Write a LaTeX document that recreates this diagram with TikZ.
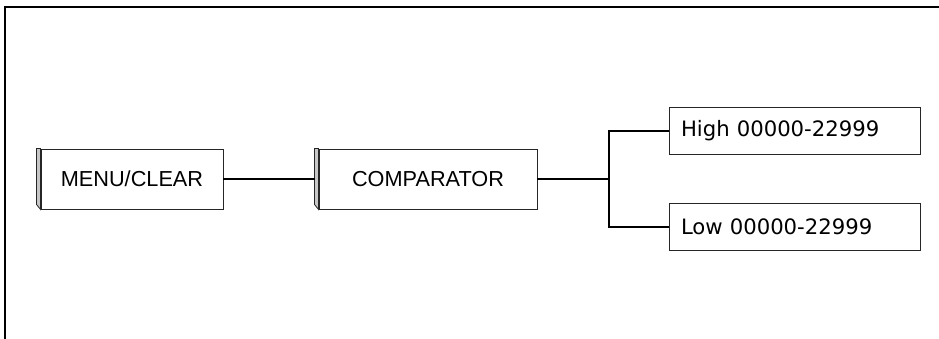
\documentclass[tikz,border=0pt]{standalone}
\usepackage{fontspec}
\setmainfont{Liberation Sans}
\newfontfamily\verd{DejaVu Sans}
\begin{document}
\begin{tikzpicture}[x=1pt,y=-1pt,
  box/.style={draw=black!85, line width=0.9pt, minimum height=60pt, inner sep=0pt, font=\fontsize{21.7}{26}\selectfont},
  leaf/.style={draw=black!85, line width=0.9pt, minimum height=47.5pt, inner xsep=12pt, inner ysep=0pt, text width=227pt, align=left, font=\verd\fontsize{21.2}{25}\selectfont},
  wire/.style={line width=1.6pt, black},
  face/.style={draw=black!85, line width=0.8pt, fill=black!22}]
\useasboundingbox (0,0) rectangle (939,339);
\fill[white] (0,0) rectangle (939,339);
% outer frame (top and left edges visible)
\coordinate (ftr) at (939,7);
\coordinate (ftl) at (5,7);
\coordinate (fbl) at (5,339);
\draw[line width=2pt, black, line cap=rect] (ftr) -- (ftl) -- (fbl);
% boxes
\node[box, minimum width=182pt] (menu) at (132,179) {MENU/CLEAR};
\node[box, minimum width=218pt] (comp) at (428,179) {COMPARATOR};
\node[leaf] (high) at (794.5,131) {High 00000-22999};
\node[leaf] (low) at (794.5,227) {Low 00000-22999};
% 3D left faces
\draw[face] (menu.north west) -- ++(-4,0) -- ++(0,56) -- (menu.south west) -- cycle;
\draw[face] (comp.north west) -- ++(-4,0) -- ++(0,56) -- (comp.south west) -- cycle;
% connectors
\coordinate (br) at (609,179);
\draw[wire] (menu.east) -- ([xshift=-4pt]comp.west);
\draw[wire] (comp.east) -- (br);
\draw[wire] (high.west) -| (br) |- (low.west);
\end{tikzpicture}
\end{document}
